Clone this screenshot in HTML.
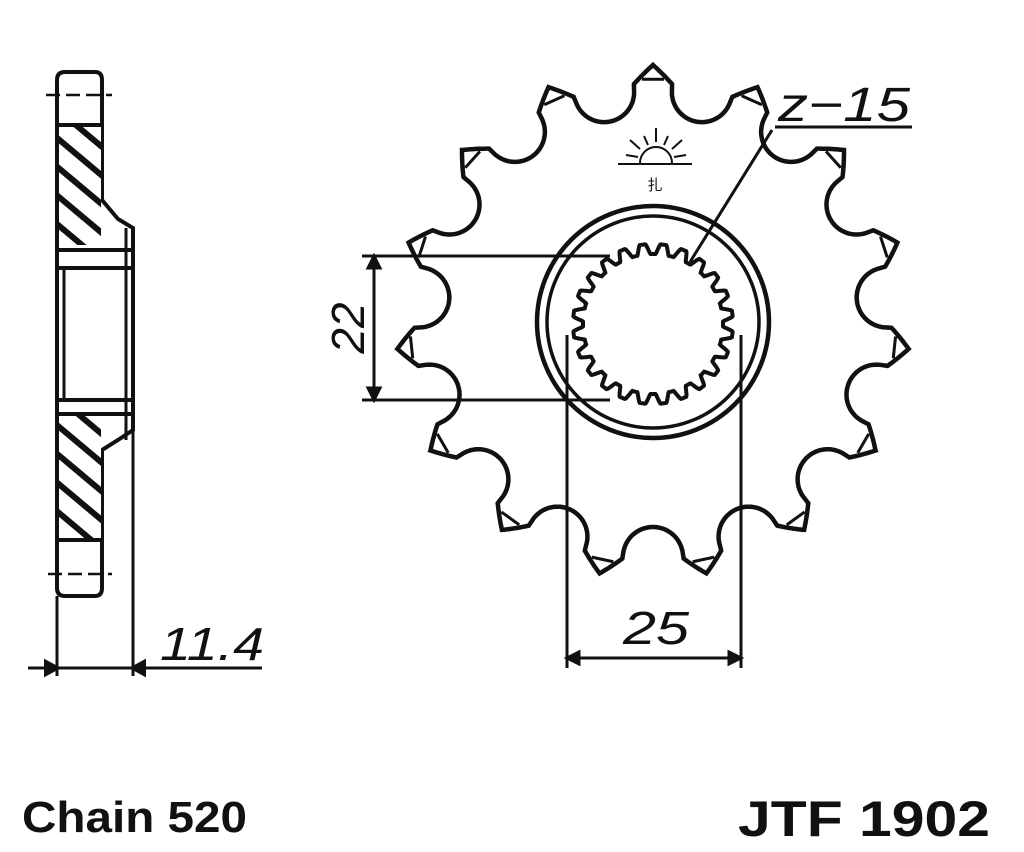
<!DOCTYPE html>
<html><head><meta charset="utf-8"><style>
html,body{margin:0;padding:0;background:#fff;width:1024px;height:852px;overflow:hidden}
svg{display:block}
text{font-family:"Liberation Sans",sans-serif;fill:#111}
</style></head><body>
<svg id="s" width="1024" height="852" viewBox="0 0 1024 852" xmlns="http://www.w3.org/2000/svg">
<defs>
<pattern id="h" patternUnits="userSpaceOnUse" width="22" height="22" patternTransform="rotate(40)">
<rect width="22" height="22" fill="#fff"/><rect y="0" width="22" height="6" fill="#111"/>
</pattern>
</defs>
<g id="gear" fill="none" stroke="#111" stroke-width="4.5"></g>
<!-- side view -->
<g stroke="#111" stroke-width="4" fill="none">
<path d="M57,80 Q57,72 65,72 L95,72 Q102,72 102,80 L102,200 L118,219 L133,228 L133,430 L118,440 L102,450 L102,588 Q102,596 95,596 L65,596 Q57,596 57,588 Z" fill="#fff"/>
<rect x="59" y="125" width="42" height="120" fill="url(#h)" stroke="none"/>
<rect x="59" y="415" width="42" height="125" fill="url(#h)" stroke="none"/>
<line x1="57" y1="125" x2="102" y2="125"/>
<line x1="57" y1="540" x2="102" y2="540"/>
<line x1="57" y1="250" x2="133" y2="250"/>
<line x1="57" y1="268" x2="133" y2="268"/>
<line x1="57" y1="400" x2="133" y2="400"/>
<line x1="57" y1="414" x2="133" y2="414"/>
<line x1="64" y1="268" x2="64" y2="400" stroke-width="3"/>
<line x1="126" y1="228" x2="126" y2="440" stroke-width="3"/>
<line x1="57" y1="596" x2="57" y2="676" stroke-width="3"/>
<line x1="133" y1="430" x2="133" y2="676" stroke-width="3"/>
<line x1="28" y1="668" x2="262" y2="668" stroke-width="3"/>
<path d="M46,662 L57,668 L46,674 Z M144,662 L133,668 L144,674 Z" fill="#111"/>
<line x1="46" y1="95" x2="112" y2="95" stroke-width="2.5" stroke-dasharray="14 6"/>
<line x1="48" y1="574" x2="112" y2="574" stroke-width="2.5" stroke-dasharray="14 6"/>
</g>
<text x="160" y="660" font-size="46" font-style="italic" textLength="104" lengthAdjust="spacingAndGlyphs">11.4</text>
<!-- dimensions -->
<g stroke="#111" stroke-width="3" fill="none">
<line x1="362" y1="256" x2="610" y2="256"/>
<line x1="362" y1="400" x2="610" y2="400"/>
<line x1="374" y1="256" x2="374" y2="400"/>
<path d="M368,268 L374,256 L380,268 Z M368,388 L374,400 L380,388 Z" fill="#111"/>
<line x1="567" y1="335" x2="567" y2="668"/>
<line x1="741" y1="335" x2="741" y2="668"/>
<line x1="567" y1="658" x2="741" y2="658"/>
<path d="M579,652 L567,658 L579,664 Z M729,652 L741,658 L729,664 Z" fill="#111"/>
<line x1="775" y1="127" x2="912" y2="127"/>
<line x1="772" y1="130" x2="690" y2="262"/>
</g>
<text x="623" y="644" font-size="46" font-style="italic" textLength="66" lengthAdjust="spacingAndGlyphs">25</text>
<text transform="translate(364,328) rotate(-90)" font-size="46" font-style="italic" text-anchor="middle">22</text>
<text x="778" y="121" font-size="48" font-style="italic" textLength="132" lengthAdjust="spacingAndGlyphs">z−15</text>
<!-- logo -->
<g stroke="#111" stroke-width="2" fill="none">
<line x1="618" y1="164" x2="692" y2="164"/>
<path d="M640,163 A16,16 0 0 1 672,163"/>
<line x1="656" y1="128" x2="656" y2="142"/>
<line x1="630" y1="140" x2="640" y2="149"/><line x1="682" y1="140" x2="672" y2="149"/>
<line x1="644" y1="136" x2="648" y2="145"/><line x1="668" y1="136" x2="664" y2="145"/>
<line x1="626" y1="155" x2="638" y2="157"/><line x1="686" y1="155" x2="674" y2="157"/>
</g>
<text x="655" y="190" font-size="15" text-anchor="middle" font-family="'Noto Sans CJK SC',sans-serif">扎</text>
<text x="22" y="832" font-size="44" font-weight="bold" textLength="225" lengthAdjust="spacingAndGlyphs">Chain 520</text>
<text x="738" y="836" font-size="50" font-weight="bold" textLength="252" lengthAdjust="spacingAndGlyphs">JTF 1902</text>
</svg>
<script>
(function(){
var cx=653,cy=322,g=document.getElementById('gear'),NS='http://www.w3.org/2000/svg';
function el(n,a){var e=document.createElementNS(NS,n);for(var k in a)e.setAttribute(k,a[k]);g.appendChild(e);return e;}
var D=235,s=30,pts=[];
for(var i=0;i<3600;i++){
 var th=i/3600*360; var rel=((th+90)%24+24)%24; var phi=rel>12?rel-24:rel;
 var r=257-4*Math.abs(phi);
 var d=(12-Math.abs(phi))*Math.PI/180; var p=D*Math.sin(d);
 if(Math.abs(p)<s){var rr=D*Math.cos(d)-Math.sqrt(s*s-p*p); if(rr<r) r=rr;}
 var a=th*Math.PI/180; pts.push((cx+r*Math.cos(a)).toFixed(1)+','+(cy+r*Math.sin(a)).toFixed(1));
}
el('polygon',{points:pts.join(' ')});
for(var t=0;t<15;t++){var a=(-90+t*24)*Math.PI/180,r=243,w=2.6*Math.PI/180;
 el('line',{x1:cx+r*Math.cos(a-w),y1:cy+r*Math.sin(a-w),x2:cx+r*Math.cos(a+w),y2:cy+r*Math.sin(a+w),'stroke-width':3});}
el('circle',{cx:cx,cy:cy,r:116});
el('circle',{cx:cx,cy:cy,r:106,'stroke-width':3.5});
var sp=[];
for(var i=0;i<720;i++){var th=i/720*2*Math.PI; var f=(th*24/(2*Math.PI))%1;
 var sm=0.5-0.5*Math.cos(f*2*Math.PI); var r=70+10*Math.min(1,Math.max(0,(sm-0.2)/0.6));
 sp.push((cx+r*Math.cos(th)).toFixed(1)+','+(cy+2+r*Math.sin(th)).toFixed(1));}
el('polygon',{points:sp.join(' '),'stroke-width':4});
})();
</script>
</body></html>
